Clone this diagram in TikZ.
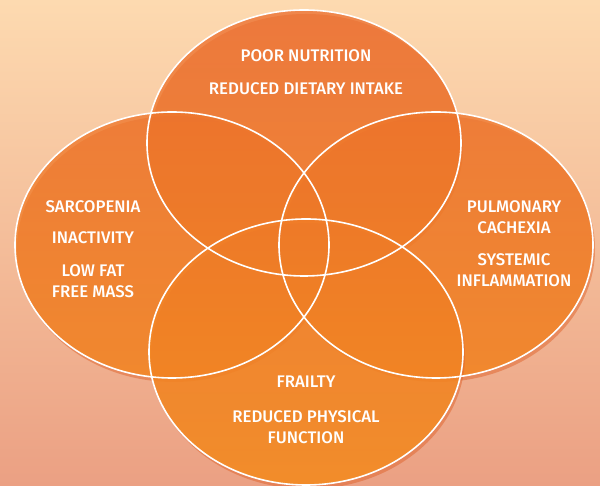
\documentclass[tikz,border=0pt]{standalone}
\usepackage{fontspec}
\setmainfont{Fira Sans}[BoldFont={Fira Sans Medium}]
\definecolor{bgtop}{HTML}{FDDAB0}
\definecolor{bgmid}{HTML}{F9CFA5}
\definecolor{bgbot}{HTML}{EBA083}
\definecolor{ortop}{HTML}{EC6E30}
\definecolor{ormid}{HTML}{F89A18}
\definecolor{orbot}{HTML}{F6901E}
\definecolor{orshadow}{HTML}{E0642C}
\tikzset{
  lbl/.style={text=white, font=\bfseries\fontsize{16.8}{21.5}\selectfont, align=center, inner sep=0pt},
  setfill/.style={top color=ortop, middle color=ormid, bottom color=orbot, opacity=0.78}
}
\begin{document}
\begin{tikzpicture}[x=1pt,y=1pt]
  \shade[top color=bgtop, middle color=bgmid, bottom color=bgbot] (0,0) rectangle (600,486);
  \useasboundingbox (0,0) rectangle (600,486);
  % the four sets: top, left, right, bottom
  \foreach \cx/\cy in {304/343, 172/241, 436/241, 306/134}{
    \fill[orshadow, opacity=0.5] (\cx+2,\cy-4) ellipse (157 and 133);
    \begin{scope}
      \clip (\cx,\cy) ellipse (157 and 133);
      \shade[setfill] (0,0) rectangle (600,486);
    \end{scope}
  }
  \foreach \cx/\cy in {304/343, 172/241, 436/241, 306/134}
    \draw[white, line width=1.6pt] (\cx,\cy) ellipse (157 and 133);
  % labels
  \node[lbl] (nutrition) at (306,430) {POOR NUTRITION};
  \node[lbl] (intake) at (306,397) {REDUCED DIETARY INTAKE};
  \node[lbl] (sarcopenia) at (93,279) {SARCOPENIA};
  \node[lbl] (inactivity) at (93,248) {INACTIVITY};
  \node[lbl] (fatfree) at (93,205) {LOW FAT\\FREE MASS};
  \node[lbl] (cachexia) at (514,269) {PULMONARY\\CACHEXIA};
  \node[lbl] (inflammation) at (514,216) {SYSTEMIC\\INFLAMMATION};
  \node[lbl] (frailty) at (306,104) {FRAILTY};
  \node[lbl] (physical) at (306,59) {REDUCED PHYSICAL\\FUNCTION};
\end{tikzpicture}
\end{document}
